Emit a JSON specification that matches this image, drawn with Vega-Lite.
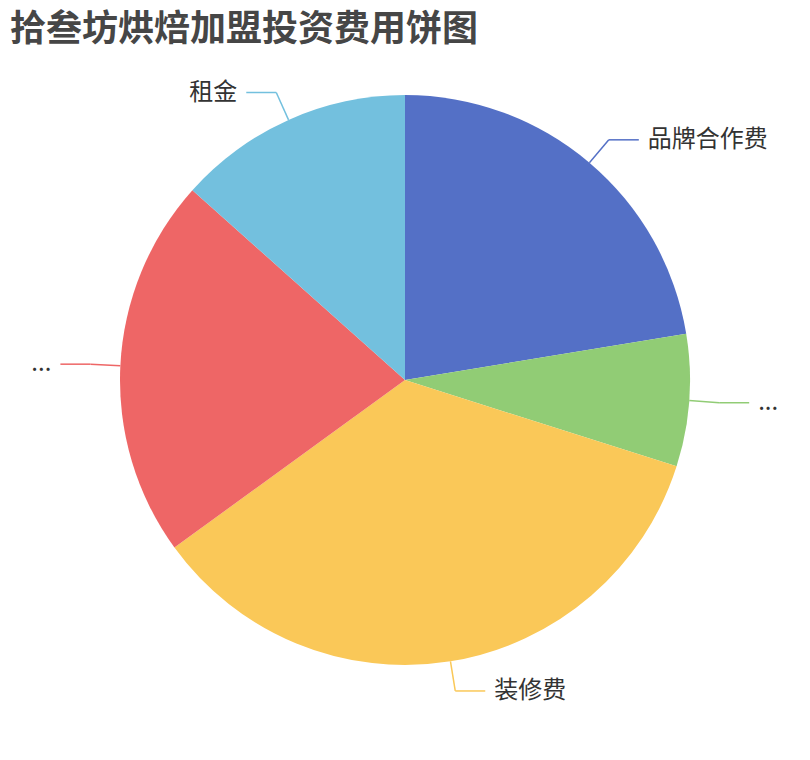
{
  "$schema": "https://vega.github.io/schema/vega-lite/v6.json",
  "width": 810,
  "height": 660,
  "autosize": {"type": "none"},
  "padding": {"top": 50, "bottom": 50, "left": 0, "right": 0},
  "background": "white",
  "title": {
    "text": "拾叁坊烘焙加盟投资费用饼图",
    "anchor": "start",
    "frame": "group",
    "font": "Noto Sans CJK SC",
    "fontSize": 36,
    "fontWeight": "bold",
    "color": "#464646",
    "dx": 10,
    "offset": 1
  },
  "config": {"view": {"stroke": null}},
  "data": {
    "values": [
      {"idx": 1, "name": "品牌合作费", "label": "品牌合作费", "value": 22.4},
      {"idx": 2, "name": "其他1", "label": "...", "value": 7.5},
      {"idx": 3, "name": "装修费", "label": "装修费", "value": 35.1},
      {"idx": 4, "name": "其他2", "label": "...", "value": 21.6},
      {"idx": 5, "name": "租金", "label": "租金", "value": 13.4}
    ]
  },
  "layer": [
    {
      "mark": {"type": "arc", "outerRadius": 285},
      "encoding": {
        "theta": {"field": "value", "type": "quantitative", "stack": true},
        "order": {"field": "idx", "type": "quantitative"},
        "color": {
          "field": "name",
          "type": "nominal",
          "scale": {
            "domain": ["品牌合作费", "其他1", "装修费", "其他2", "租金"],
            "range": ["#5470c6", "#91cc75", "#fac858", "#ee6666", "#73c0de"]
          },
          "legend": null
        }
      }
    },
    {
      "transform": [
        {"joinaggregate": [{"op": "sum", "field": "value", "as": "total"}]},
        {"window": [{"op": "sum", "field": "value", "as": "cum"}], "sort": [{"field": "idx"}], "frame": [null, 0]},
        {"calculate": "2 * PI * (datum.cum - datum.value / 2) / datum.total", "as": "a"},
        {"calculate": "sin(datum.a) >= 0 ? 1 : -1", "as": "side"},
        {"calculate": "285 * sin(datum.a)", "as": "x0"},
        {"calculate": "285 * cos(datum.a)", "as": "y0"},
        {"calculate": "315 * sin(datum.a)", "as": "x1"},
        {"calculate": "315 * cos(datum.a)", "as": "y1"},
        {"calculate": "datum.x1 + 30 * datum.side", "as": "x2"},
        {"calculate": "datum.x2 + 9 * datum.side", "as": "xt"}
      ],
      "layer": [
        {
          "mark": {"type": "rule", "strokeWidth": 1.5},
          "encoding": {
            "x": {"field": "x0", "type": "quantitative", "scale": {"domain": [-405, 405], "nice": false, "zero": false}, "axis": null},
            "y": {"field": "y0", "type": "quantitative", "scale": {"domain": [-330, 330], "nice": false, "zero": false}, "axis": null},
            "x2": {"field": "x1"},
            "y2": {"field": "y1"},
            "color": {"field": "name", "type": "nominal", "legend": null}
          }
        },
        {
          "mark": {"type": "rule", "strokeWidth": 1.5},
          "encoding": {
            "x": {"field": "x1", "type": "quantitative"},
            "y": {"field": "y1", "type": "quantitative"},
            "x2": {"field": "x2"},
            "color": {"field": "name", "type": "nominal", "legend": null}
          }
        },
        {
          "transform": [{"filter": "datum.side > 0"}],
          "mark": {"type": "text", "align": "left", "baseline": "middle", "font": "Noto Sans CJK SC", "fontSize": 24, "color": "#333333"},
          "encoding": {
            "x": {"field": "xt", "type": "quantitative"},
            "y": {"field": "y1", "type": "quantitative"},
            "text": {"field": "label"}
          }
        },
        {
          "transform": [{"filter": "datum.side < 0"}],
          "mark": {"type": "text", "align": "right", "baseline": "middle", "font": "Noto Sans CJK SC", "fontSize": 24, "color": "#333333"},
          "encoding": {
            "x": {"field": "xt", "type": "quantitative"},
            "y": {"field": "y1", "type": "quantitative"},
            "text": {"field": "label"}
          }
        }
      ]
    }
  ]
}
